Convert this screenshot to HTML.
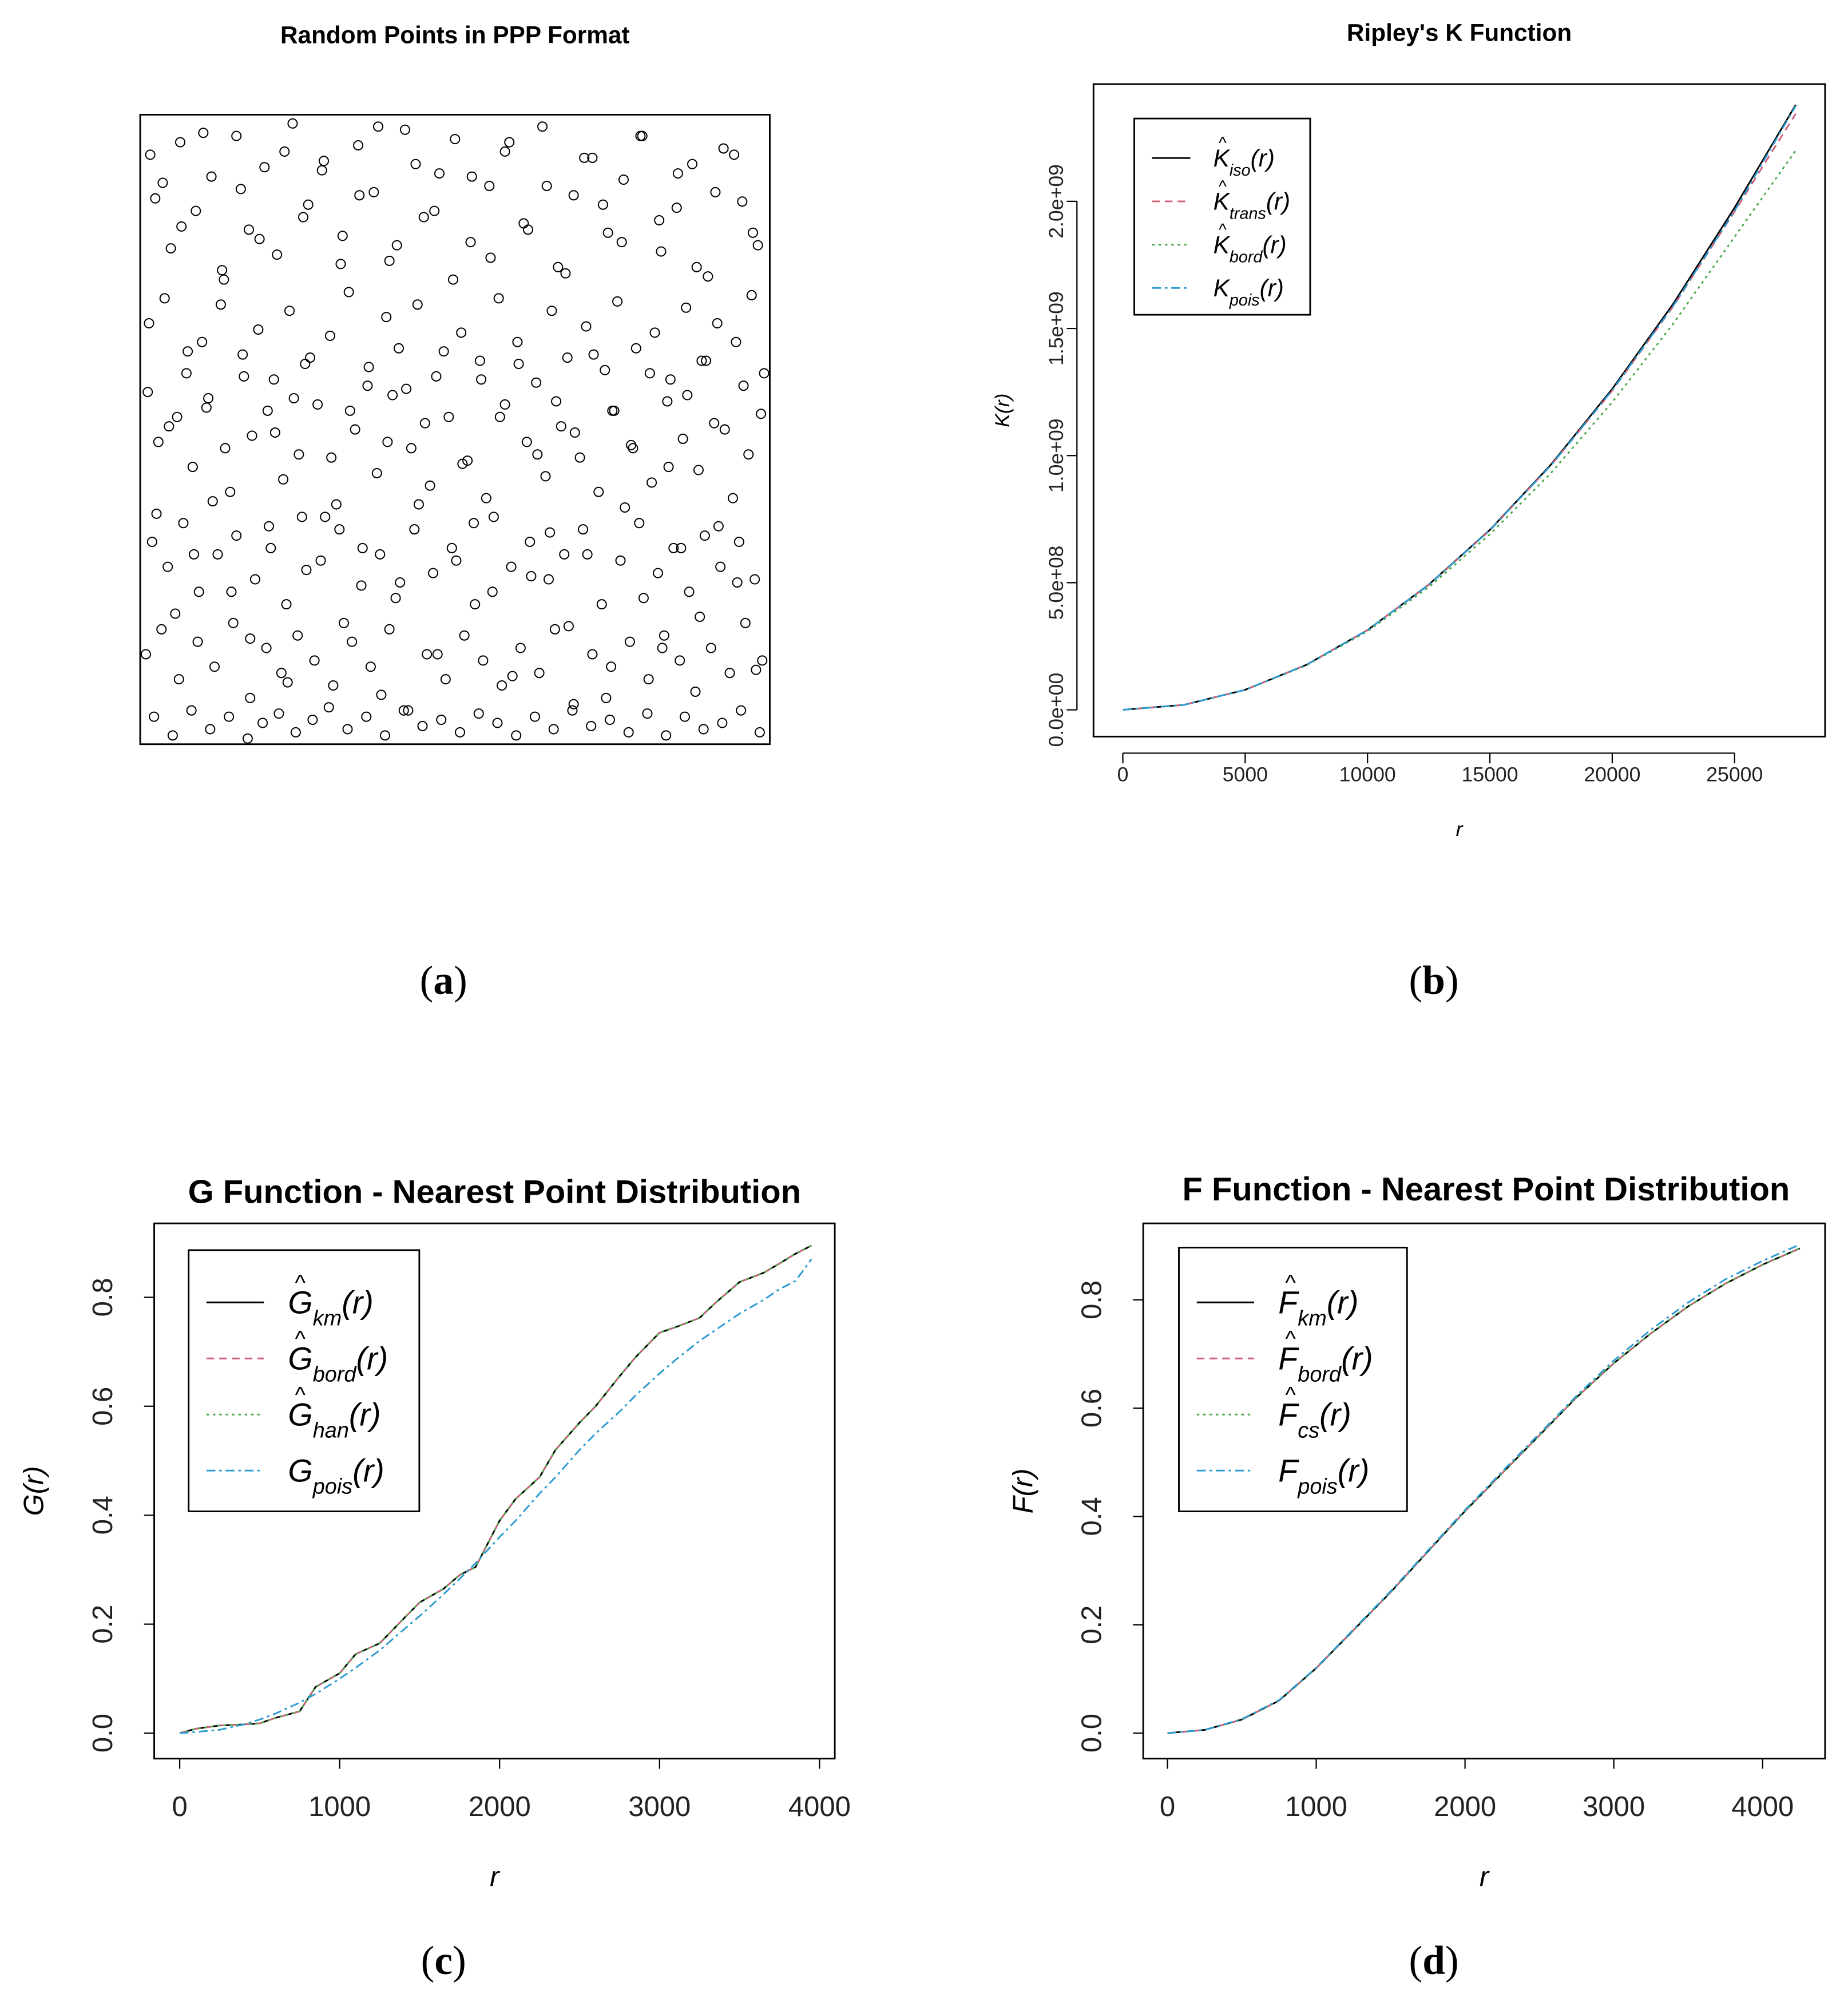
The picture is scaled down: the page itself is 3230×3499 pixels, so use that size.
<!DOCTYPE html>
<html><head><meta charset="utf-8">
<style>
html,body{margin:0;padding:0;background:#fff;}
svg{display:block;font-family:"Liberation Sans",sans-serif;}
.cap{font-family:"Liberation Serif",serif;font-size:32px;}
</style></head>
<body>
<svg id="fig" width="3230" height="3499" viewBox="0 0 1450 1571" preserveAspectRatio="none" xmlns="http://www.w3.org/2000/svg">
<rect width="1450" height="1571" fill="#fff"/>
<text x="357" y="34" text-anchor="middle" font-size="19" font-weight="bold">Random Points in PPP Format</text>
<rect x="110" y="90" width="494" height="494" fill="none" stroke="#000" stroke-width="1.3"/>
<g id="ptsA"></g>
<text x="1145" y="32" text-anchor="middle" font-size="19" font-weight="bold">Ripley's K Function</text>
<g id="panelB"></g>
<g id="panelC"></g>
<g id="panelD"></g>
<text class="cap" x="348" y="780" text-anchor="middle">(<tspan font-weight="bold">a</tspan>)</text>
<text class="cap" x="1125" y="780" text-anchor="middle">(<tspan font-weight="bold">b</tspan>)</text>
<text class="cap" x="348" y="1549" text-anchor="middle">(<tspan font-weight="bold">c</tspan>)</text>
<text class="cap" x="1125" y="1549" text-anchor="middle">(<tspan font-weight="bold">d</tspan>)</text>
</svg>
<script>
const NS="http://www.w3.org/2000/svg";
// ---- data: panel a points (normalized 0..1000, y from top) ----
const ptsX=[12,20,45,60,85,110,130,150,170,195,215,240,265,290,320,345,370,395,420,450,475,500,525,555,580,610,640,665,690,720,745,770,800,830,855,880,905,930,960,985,
10,35,70,95,125,160,185,210,235,260,300,330,360,390,410,440,470,510,540,570,600,630,655,680,710,740,760,790,820,845,870,895,920,950,975,995,
25,55,80,105,140,175,200,225,250,280,310,340,375,400,430,460,490,520,550,580,615,645,670,700,730,755,785,815,840,865,890,915,945,970,990,
15,40,65,90,120,150,180,205,230,255,285,315,350,380,405,435,465,495,530,560,590,620,650,675,705,735,765,795,825,850,875,900,925,955,980,
5,30,58,88,115,145,172,198,222,248,275,305,335,365,395,425,455,485,515,545,575,605,635,660,690,720,750,780,810,835,860,885,910,940,965,992,
18,48,78,108,138,168,192,218,245,272,298,328,358,388,418,448,478,508,538,568,598,628,658,688,718,748,778,808,838,868,898,928,958,988,
32,62,97,127,157,187,227,257,287,317,347,377,407,437,467,497,527,557,587,617,647,677,707,737,767,797,827,857,887,917,947,977,
8,42,72,102,132,162,212,242,268,302,332,362,392,422,452,482,512,542,572,602,632,662,692,722,752,782,812,842,872,902,932,962,
22,52,82,112,142,172,202,232,262,292,322,352,382,412,442,472,502,532,562,592,622,652,682,712,742,772,802,832,862,892,922,952,982];
const ptsY=[60,130,210,40,150,95,260,30,180,80,220,10,140,70,190,45,120,230,20,160,90,35,200,110,55,170,15,240,125,65,185,100,30,215,145,75,255,50,135,205,
330,290,410,360,300,380,340,420,310,395,350,280,430,320,370,300,415,345,390,290,360,425,310,385,335,405,295,370,345,420,305,390,330,360,285,410,
520,480,560,450,600,510,470,580,540,460,620,500,570,445,530,590,480,550,610,460,520,575,495,545,600,470,530,585,455,515,565,490,610,540,475,
680,720,650,760,700,670,740,690,780,640,710,660,750,700,770,660,730,690,650,760,720,680,740,700,660,780,710,650,730,690,760,670,720,680,740,
860,820,900,840,880,810,930,850,890,830,870,910,840,880,820,950,860,900,830,870,910,850,890,820,940,860,880,840,900,830,870,920,850,890,810,870,
960,990,950,980,960,995,970,955,985,965,945,980,960,990,950,975,965,985,955,970,990,960,980,950,975,965,985,955,990,960,980,970,950,985,
105,175,25,245,115,195,55,160,85,235,125,15,205,75,150,260,95,225,40,180,110,250,65,140,200,30,165,90,240,120,60,185,
440,495,375,465,530,415,505,450,385,545,470,400,520,435,490,375,555,420,480,395,540,455,505,380,470,525,410,560,445,390,500,430,
635,795,700,615,760,835,655,905,725,640,810,690,925,745,620,860,710,780,640,895,735,665,815,700,930,625,770,850,690,800,655,745,885];
// ---- data: panel b (Ripley's K) ----
const rK=[0,2500,5000,7500,10000,12500,15000,17500,20000,22500,25000,27500];
const kIso=[0,0.0196,0.0785,0.177,0.314,0.492,0.708,0.965,1.262,1.598,1.975,2.380];
const kTrans=[0,0.0196,0.0785,0.177,0.314,0.491,0.706,0.962,1.255,1.588,1.960,2.345];
const kBord=[0,0.0196,0.0782,0.175,0.309,0.482,0.690,0.932,1.210,1.520,1.860,2.200];
const kPois=[0,0.0196,0.0785,0.177,0.314,0.491,0.707,0.962,1.257,1.590,1.963,2.376];
const kTicksX=[0,5000,10000,15000,20000,25000];
const kTicksY=[0,0.5,1.0,1.5,2.0];
const kTickLabY=["0.0e+00","5.0e+08","1.0e+09","1.5e+09","2.0e+09"];
// ---- data: panel c (G) ----
const rG=[0,100,250,400,500,600,750,850,1000,1100,1250,1400,1500,1650,1750,1850,2000,2100,2250,2350,2500,2600,2750,2850,3000,3100,3250,3350,3500,3650,3750,3850,3950];
const gKm=[0,0.008,0.014,0.016,0.018,0.028,0.04,0.085,0.11,0.145,0.165,0.21,0.24,0.265,0.29,0.305,0.39,0.43,0.47,0.52,0.57,0.6,0.655,0.69,0.735,0.745,0.762,0.79,0.828,0.845,0.862,0.88,0.895];
const gPois=[0,0.002,0.006,0.016,0.025,0.036,0.056,0.072,0.1,0.12,0.152,0.19,0.215,0.255,0.283,0.312,0.36,0.39,0.44,0.47,0.52,0.55,0.59,0.62,0.66,0.685,0.72,0.74,0.77,0.795,0.815,0.83,0.87];
const gTicksX=[0,1000,2000,3000,4000];
const gTicksY=[0,0.2,0.4,0.6,0.8];
// ---- data: panel d (F) ----
const rF=[0,250,500,750,1000,1250,1500,1750,2000,2250,2500,2750,3000,3250,3500,3750,4000,4250];
const fKm=[0,0.006,0.025,0.06,0.12,0.19,0.26,0.335,0.41,0.48,0.55,0.62,0.683,0.738,0.788,0.83,0.865,0.895];
const fPois=[0,0.006,0.026,0.061,0.121,0.191,0.262,0.337,0.412,0.483,0.553,0.623,0.688,0.745,0.795,0.838,0.872,0.902];
const fTicksX=[0,1000,2000,3000,4000];
const fTicksY=[0,0.2,0.4,0.6,0.8];

function el(tag,attrs,parent,txt){const e=document.createElementNS(NS,tag);for(const k in attrs)e.setAttribute(k,attrs[k]);if(txt!==undefined)e.textContent=txt;parent.appendChild(e);return e;}

const gA=document.getElementById('ptsA');
for(let i=0;i<ptsX.length;i++){
  const c=el('circle',{cx:112+ptsX[i]*0.49,cy:92+ptsY[i]*0.49,r:3.6,fill:'none',stroke:'#000','stroke-width':0.9},gA);
  
  
}

function panel(g,cfg){
  const sx=v=>cfg.x0+(v-cfg.xmin)*cfg.kx, sy=v=>cfg.y0-(v-cfg.ymin)*cfg.ky;
  el('rect',{x:cfg.box[0],y:cfg.box[1],width:cfg.box[2]-cfg.box[0],height:cfg.box[3]-cfg.box[1],fill:'none',stroke:'#000','stroke-width':1.3},g);
  const by=cfg.box[3], bx=cfg.box[0];
  el('line',{x1:sx(cfg.tx[0]),x2:sx(cfg.tx[cfg.tx.length-1]),y1:by+cfg.gap,y2:by+cfg.gap,stroke:'#000'},g);
  cfg.tx.forEach(t=>{el('line',{x1:sx(t),x2:sx(t),y1:by+cfg.gap,y2:by+cfg.gap+8,stroke:'#000'},g);
    const tl=el('text',{x:sx(t),y:cfg.txY,'text-anchor':'middle','font-size':cfg.fs,fill:'#222'},g,String(t));
    });
  el('line',{x1:bx-cfg.gap,x2:bx-cfg.gap,y1:sy(cfg.ty[0]),y2:sy(cfg.ty[cfg.ty.length-1]),stroke:'#000'},g);
  cfg.ty.forEach((t,i)=>{el('line',{x1:bx-cfg.gap,x2:bx-cfg.gap-8,y1:sy(t),y2:sy(t),stroke:'#000'},g);
    const lx=cfg.tyX,ly=sy(t);
    const tl=el('text',{x:lx,y:ly,'text-anchor':'middle','font-size':cfg.fs,fill:'#222',transform:`rotate(-90 ${lx} ${ly})`},g,cfg.tyl?cfg.tyl[i]:t.toFixed(1));
    });
  const xl=el('text',{x:(cfg.box[0]+cfg.box[2])/2,y:cfg.xlabY,'text-anchor':'middle','font-size':cfg.fs,'font-style':'italic'},g,'r');
  
  const yx=cfg.ylabX,yy=(cfg.box[1]+cfg.box[3])/2+cfg.ylabDy;
  const yl=el('text',{x:yx,y:yy,'text-anchor':'middle','font-size':cfg.fs,'font-style':'italic',transform:`rotate(-90 ${yx} ${yy})`},g,cfg.ylab+'(r)');
  
  cfg.series.forEach(s=>{
    const d=s.v.map((v,i)=>(i?'L':'M')+sx(s.r[i]).toFixed(1)+','+sy(v).toFixed(1)).join('');
    const p=el('path',{d:d,fill:'none',stroke:s.c,'stroke-width':1.3,'stroke-dasharray':s.dash||'none'},g);
    
  });
  const L=cfg.leg;
  const lg=el('g',{},g);
  
  el('rect',{x:L.x,y:L.y,width:L.w,height:L.h,fill:'#fff',stroke:'#000','stroke-width':1.3},lg);
  cfg.series.forEach((s,i)=>{
    const yy=L.y+L.y1+i*L.dy;
    el('line',{x1:L.x+14,x2:L.x+14+L.ll,y1:yy,y2:yy,stroke:s.c,'stroke-width':1.3,'stroke-dasharray':s.dash||'none'},lg);
    const tx=L.x+L.tx;
    const t=el('text',{x:tx,y:yy+L.fs*0.35,'font-size':L.fs,'font-style':'italic'},lg);
    
    el('tspan',{},t,cfg.ylab);
    el('tspan',{'baseline-shift':'sub','font-size':L.fs*0.68},t,s.sub);
    el('tspan',{},t,'(r)');
    if(s.hat) el('text',{x:tx+L.fs*0.22,y:yy-L.fs*0.38,'font-size':L.fs*0.7},lg,'^');
  });
}

panel(document.getElementById('panelB'),{box:[858,66,1432,578],x0:881,xmin:0,kx:480/25000,y0:557,ymin:0,ky:199.5,gap:13,fs:16,txY:613,tyX:834,
  tx:kTicksX,ty:kTicksY,tyl:kTickLabY,xlabY:656,ylabX:792,ylabDy:0,ylab:'K',
  series:[{r:rK,v:kIso,c:'#000',name:'k-iso-line',sub:'iso',hat:1},
          {r:rK,v:kTrans,c:'#d0607a',dash:'6 4',name:'k-trans-line',sub:'trans',hat:1},
          {r:rK,v:kBord,c:'#4aa84a',dash:'2 3',name:'k-bord-line',sub:'bord',hat:1},
          {r:rK,v:kPois,c:'#2a9ad0',dash:'7 3 2 3',name:'k-pois-line',sub:'pois'}],
  leg:{x:890,y:93,w:138,h:154,y1:31,dy:34,ll:30,tx:62,fs:19}});

el('text',{x:388,y:944,'text-anchor':'middle','font-size':26,'font-weight':'bold'},document.getElementById('panelC'),'G Function - Nearest Point Distribution');
panel(document.getElementById('panelC'),{box:[121,960,655,1380],x0:141,xmin:0,kx:125.5/1000,y0:1360,ymin:0,ky:85.5/0.2,gap:0,fs:22,txY:1425,tyX:88,
  tx:gTicksX,ty:gTicksY,xlabY:1480,ylabX:34,ylabDy:0,ylab:'G',
  series:[{r:rG,v:gKm,c:'#000',name:'g-km-line',sub:'km',hat:1},
          {r:rG,v:gKm,c:'#d0607a',dash:'6 4',name:'g-bord-line',sub:'bord',hat:1},
          {r:rG,v:gKm,c:'#4aa84a',dash:'2 3',name:'g-han-line',sub:'han',hat:1},
          {r:rG,v:gPois,c:'#2a9ad0',dash:'7 3 2 3',name:'g-pois-line',sub:'pois'}],
  leg:{x:148,y:981,w:181,h:205,y1:41,dy:44,ll:45,tx:78,fs:25}});

el('text',{x:1166,y:942,'text-anchor':'middle','font-size':26,'font-weight':'bold'},document.getElementById('panelD'),'F Function - Nearest Point Distribution');
panel(document.getElementById('panelD'),{box:[897,960,1432,1380],x0:916,xmin:0,kx:116.75/1000,y0:1360,ymin:0,ky:85/0.2,gap:0,fs:22,txY:1425,tyX:864,
  tx:fTicksX,ty:fTicksY,xlabY:1480,ylabX:810,ylabDy:0,ylab:'F',
  series:[{r:rF,v:fKm,c:'#000',name:'f-km-line',sub:'km',hat:1},
          {r:rF,v:fKm,c:'#d0607a',dash:'6 4',name:'f-bord-line',sub:'bord',hat:1},
          {r:rF,v:fKm,c:'#4aa84a',dash:'2 3',name:'f-cs-line',sub:'cs',hat:1},
          {r:rF,v:fPois,c:'#2a9ad0',dash:'7 3 2 3',name:'f-pois-line',sub:'pois'}],
  leg:{x:925,y:979,w:179,h:207,y1:43,dy:44,ll:45,tx:78,fs:25}});
</script>
</body></html>
